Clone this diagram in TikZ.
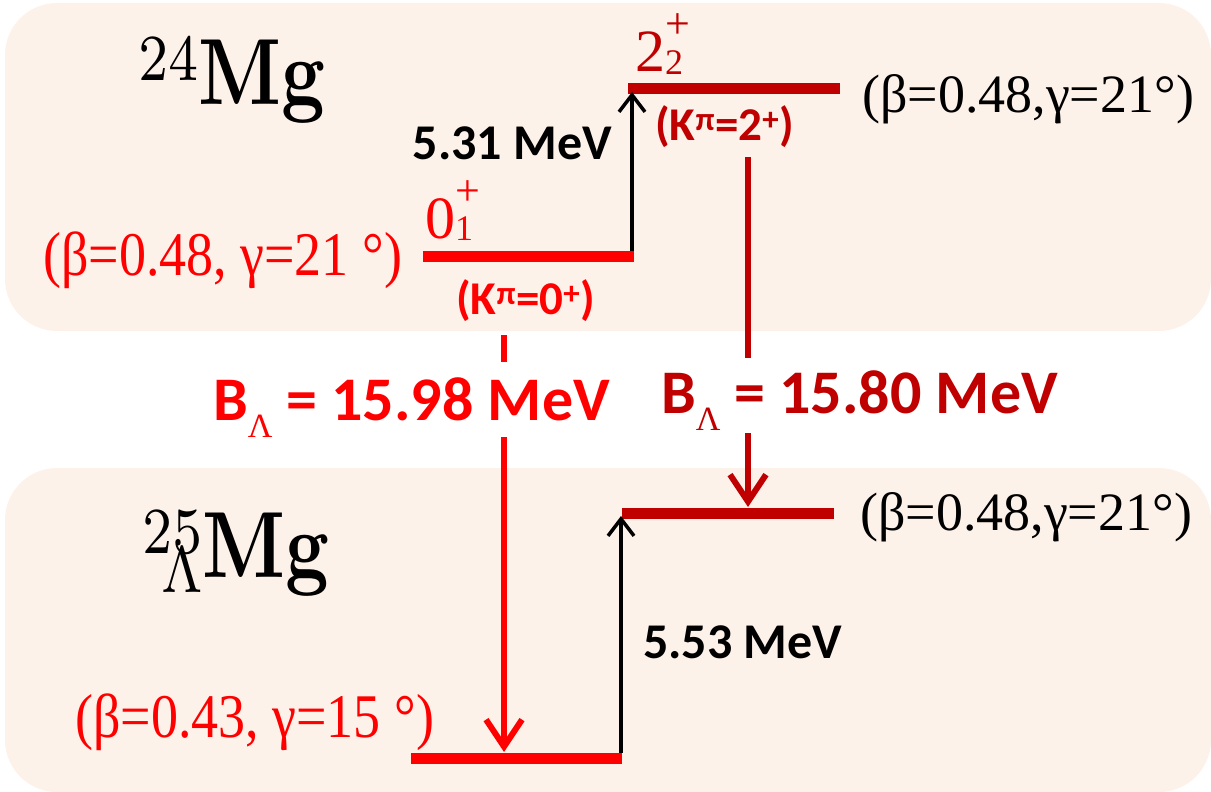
\documentclass[tikz,border=0pt]{standalone}
\usepackage{fontspec}
\usepackage{graphicx}
\usetikzlibrary{arrows.meta}
\newfontfamily\calb{Carlito}
\newfontfamily\tms{Liberation Serif}
\newfontfamily\lmbx{lmroman10-bold.otf}
\definecolor{panel}{RGB}{253,242,234}
\definecolor{lvred}{RGB}{255,0,0}
\definecolor{lvdark}{RGB}{192,0,0}
\newcommand{\spinlab}[3]{#1\rlap{\raisebox{33pt}{\fontsize{44}{44}\selectfont #2}}\raisebox{-2pt}{\fontsize{36}{36}\selectfont #3}}
\newcommand{\blam}{B\raisebox{-17pt}{\tms\mdseries\fontsize{34}{34}\selectfont Λ}}
\newcommand{\nucl}[3]{\scalebox{7.6}[9.4]{\raisebox{2.5pt}{\fontsize{7}{7}\selectfont #1}\llap{\raisebox{-1.6pt}{$\scriptstyle #2$}}{\lmbx #3}}}
\begin{document}
\begin{tikzpicture}[x=1pt,y=-1pt,inner sep=0pt,
  lvl/.style={line width=11pt},
  gam/.style={line width=3.5pt,-{Straight Barb[length=17pt,width=26pt,line width=3.5pt]}},
  bla/.style={line width=6pt},
  blarrow/.style={bla,-{Straight Barb[length=27pt,width=36pt,line width=6pt]}},
  mev/.style={font=\calb\bfseries\fontsize{50}{60}\selectfont},
  kpi/.style={font=\calb\bfseries\fontsize{47}{56}\selectfont},
  bind/.style={font=\calb\bfseries\fontsize{62}{74}\selectfont},
  defo/.style={font=\tms\fontsize{54}{64}\selectfont},
  spin/.style={font=\tms\fontsize{60}{70}\selectfont}]
  \useasboundingbox (0,0) rectangle (1211,792);
  \fill[panel,rounded corners=52pt] (5,3) rectangle (1211,331);
  \fill[panel,rounded corners=52pt] (5,468) rectangle (1211,792);
  \node[anchor=base west] (mg24) at (138,104) {\nucl{24}{}{Mg}};
  \node[anchor=base west] (mg25) at (142,577) {\nucl{25}{\Lambda}{Mg}};
  \coordinate (g0a) at (423,256); \coordinate (g0b) at (634,256);
  \coordinate (g2a) at (628,89);  \coordinate (g2b) at (840,89);
  \coordinate (h0a) at (411,758); \coordinate (h0b) at (622,758);
  \coordinate (h2a) at (622,513); \coordinate (h2b) at (834,513);
  \draw[lvl,lvred] (g0a) -- (g0b);
  \draw[lvl,lvdark] (g2a) -- (g2b);
  \draw[lvl,lvred] (h0a) -- (h0b);
  \draw[lvl,lvdark] (h2a) -- (h2b);
  \coordinate (t1s) at (632,251); \coordinate (t1e) at (632,92);
  \coordinate (t2s) at (621,753); \coordinate (t2e) at (621,516);
  \draw[gam] (t1s) -- (t1e);
  \draw[gam] (t2s) -- (t2e);
  \coordinate (r1a) at (504,335); \coordinate (r1b) at (504,362);
  \coordinate (r1c) at (504,437); \coordinate (r1d) at (504,752);
  \coordinate (r2a) at (748,157); \coordinate (r2b) at (748,358);
  \coordinate (r2c) at (748,433); \coordinate (r2d) at (748,507);
  \draw[bla,lvred] (r1a) -- (r1b);
  \draw[blarrow,lvred] (r1c) -- (r1d);
  \draw[bla,lvdark] (r2a) -- (r2b);
  \draw[blarrow,lvdark] (r2c) -- (r2d);
  \node[mev,anchor=base east] (e531) at (612,159) {5.31 MeV};
  \node[mev,anchor=base west] (e553) at (643,658) {5.53 MeV};
  \node[bind,lvred,anchor=base west] (b1598) at (213,420) {\blam{} = 15.98 MeV};
  \node[bind,lvdark,anchor=base west] (b1580) at (661,413) {\blam{} = 15.80 MeV};
  \node[kpi,lvred,anchor=base west] (k0) at (456,314) {(K\textsuperscript{π}=0\textsuperscript{+})};
  \node[kpi,lvdark,anchor=base west] (k2) at (655,140) {(K\textsuperscript{π}=2\textsuperscript{+})};
  \node[spin,lvred,anchor=base west] (s01) at (425,238) {\spinlab{0}{+}{1}};
  \node[spin,lvdark,anchor=base west] (s22) at (635,72) {\spinlab{2}{+}{2}};
  \node[defo,anchor=base west] (d24x) at (862,112) {(β=0.48,γ=21°)};
  \node[defo,anchor=base west] (d25x) at (860,530) {(β=0.48,γ=21°)};
  \node[defo,lvred,anchor=base west] (d24g) at (43,275) {\scalebox{1}[1.15]{(β=0.48, γ=21 °)}};
  \node[defo,lvred,anchor=base west] (d25g) at (75,737) {\scalebox{1}[1.15]{(β=0.43, γ=15 °)}};
\end{tikzpicture}
\end{document}
